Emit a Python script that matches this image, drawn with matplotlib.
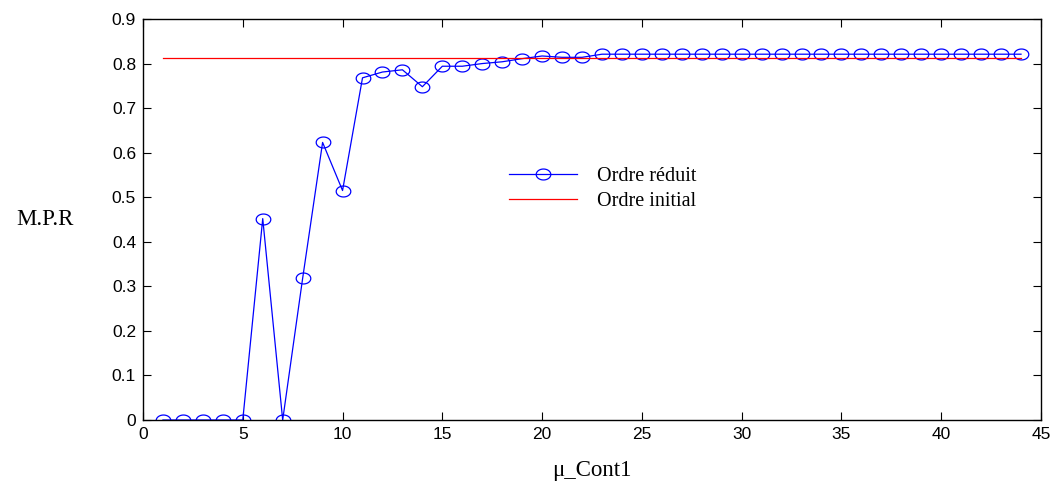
import numpy as np
import matplotlib
matplotlib.use("Agg")
import matplotlib.pyplot as plt
from matplotlib.path import Path

x_vals = list(range(1, 45))
reduit = [0, 0, 0, 0, 0, 0.452, 0, 0.318, 0.623, 0.515,
          0.768, 0.781, 0.786, 0.748, 0.794, 0.794, 0.800, 0.804, 0.811, 0.817,
          0.814, 0.814] + [0.821] * 22
initial_val = 0.812
initial = [initial_val] * len(x_vals)

xticks = [0, 5, 10, 15, 20, 25, 30, 35, 40, 45]
yticks = [0, 0.1, 0.2, 0.3, 0.4, 0.5, 0.6, 0.7, 0.8, 0.9]

fig = plt.figure(figsize=(10.56, 4.82), dpi=100)
ax = fig.add_axes([143/1056, 1 - 420/482, (1041-143)/1056, (420-19)/482])

t = np.linspace(0, 2*np.pi, 60)
ell = Path(np.column_stack([np.cos(t), 0.75*np.sin(t)]), closed=True)

ax.plot(x_vals, reduit, color='#0000ff', lw=0.9, marker=ell, markersize=10.5,
        markerfacecolor='none', markeredgecolor='#0000ff', markeredgewidth=0.9,
        label='Ordre réduit')
ax.plot(x_vals, initial, color='#ff0000', lw=0.9, label='Ordre initial')

ax.set_xlim(0, 45)
ax.set_ylim(0, 0.9)
ax.set_xticks(xticks)
ax.set_yticks(yticks)
ax.set_xticklabels([str(v) for v in xticks])
ax.set_yticklabels(['0'] + [f'{v:.1f}' for v in yticks[1:]])
ax.tick_params(direction='in', length=6, width=0.8, top=True, right=True,
               labelsize=12.5, pad=5)
for lab in ax.get_xticklabels() + ax.get_yticklabels():
    lab.set_fontfamily('Liberation Sans')
for s in ax.spines.values():
    s.set_linewidth(1.0)

ax.set_xlabel('μ_Cont1', fontfamily='Liberation Serif', fontsize=16.5, labelpad=13)
ax.set_ylabel('M.P.R', fontfamily='Liberation Serif', fontsize=16.5, rotation=0,
              labelpad=48, va='center', ha='center')

leg = ax.legend(loc='upper left', bbox_to_anchor=(0.387, 0.677), frameon=False,
                prop={'family': 'Liberation Serif', 'size': 14.5},
                handlelength=3.4, handletextpad=1.0, labelspacing=0.32)

fig.savefig('out.png', dpi=100)
